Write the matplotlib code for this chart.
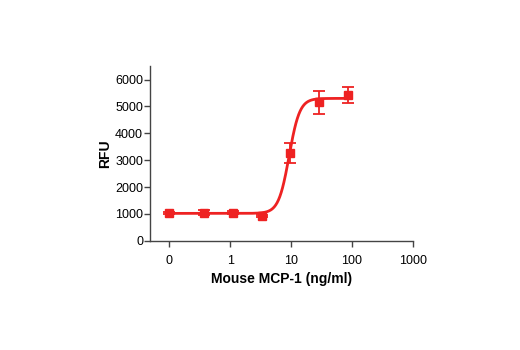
import numpy as np
import matplotlib
matplotlib.use("Agg")
import matplotlib.pyplot as plt

plt.rcParams['font.family'] = ['Liberation Sans Narrow', 'Liberation Sans', 'DejaVu Sans']

# data
conc = [0.1, 0.37, 1.1, 3.3, 9.5, 29, 88]   # 0 plotted at 0.1 (labelled "0")
rfu = [1030, 1050, 1050, 910, 3270, 5160, 5440]
err = [40, 100, 50, 40, 380, 430, 300]
xticks = [0.1, 1, 10, 100, 1000]
xticklabels = ['0', '1', '10', '100', '1000']
yticks = [0, 1000, 2000, 3000, 4000, 5000, 6000]

# 4-parameter logistic fit parameters
bottom, top, ec50, hill = 1020, 5300, 9.3, 5.0

red = '#ee2222'
fig = plt.figure(figsize=(5.2, 3.5), dpi=100)
ax = fig.add_axes([0.2885, 0.312, 0.505, 0.499])

xs = np.logspace(np.log10(0.1), np.log10(88), 400)
ys = bottom + (top - bottom) / (1 + (ec50 / xs) ** hill)
ax.plot(xs, ys, color=red, lw=2.0, zorder=2)
ax.errorbar(conc, rfu, yerr=err, fmt='s', color=red, ms=5.5, capsize=4.5,
            elinewidth=1.3, capthick=1.3, zorder=3)

ax.set_xscale('log')
ax.set_xlim(10 ** -1.32, 1000)
ax.set_ylim(0, 6500)
ax.set_xticks(xticks)
ax.set_xticklabels(xticklabels)
ax.minorticks_off()
ax.set_yticks(yticks)
for s in ['top', 'right']:
    ax.spines[s].set_visible(False)
for s in ['left', 'bottom']:
    ax.spines[s].set_color('#444444')
    ax.spines[s].set_linewidth(1.0)
ax.tick_params(axis='both', colors='#444444', labelcolor='black', length=4,
               width=1.0, labelsize=9)
ax.tick_params(axis='x', pad=6)
ax.tick_params(axis='y', pad=1)
ax.set_xlabel('Mouse MCP-1 (ng/ml)', fontsize=10, fontweight='bold', labelpad=4)
ax.set_ylabel('RFU', fontsize=10, fontweight='bold', labelpad=2)

fig.savefig('out.png', dpi=100)
